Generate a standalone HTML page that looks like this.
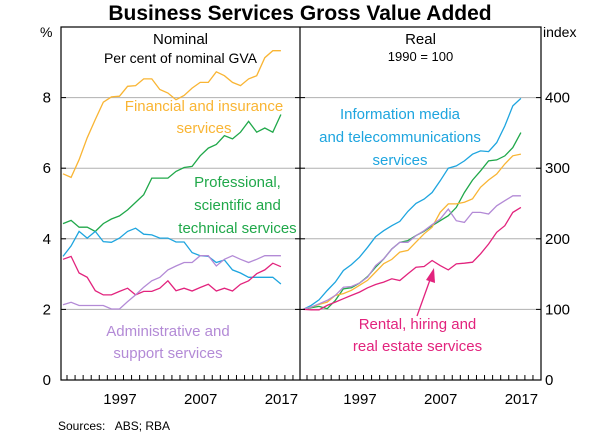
<!DOCTYPE html>
<html><head><meta charset="utf-8"><style>
html,body{margin:0;padding:0;background:#fff;}
svg{display:block;font-family:"Liberation Sans",Arial,sans-serif;}
</style></head><body>
<svg id="c" width="600" height="438" viewBox="0 0 600 438" xmlns="http://www.w3.org/2000/svg">
<text x="300" y="20" text-anchor="middle" font-size="21" font-weight="bold">Business Services Gross Value Added</text>
<g id="grid"></g>
<g id="lines"></g>
<g id="frame"></g>
<g id="labels" font-size="15"></g>
</svg>
<script>
const years = [1990,1991,1992,1993,1994,1995,1996,1997,1998,1999,2000,2001,2002,2003,2004,2005,2006,2007,2008,2009,2010,2011,2012,2013,2014,2015,2016,2017];
const nomFinancial = [5.84,5.74,6.24,6.86,7.38,7.87,8.02,8.04,8.32,8.34,8.53,8.53,8.23,8.13,7.94,8.06,8.27,8.43,8.43,8.73,8.62,8.43,8.34,8.53,8.62,9.13,9.33,9.33];
const nomProfessional = [4.43,4.52,4.33,4.33,4.21,4.43,4.56,4.65,4.82,5.03,5.25,5.72,5.72,5.72,5.91,6.02,6.05,6.35,6.57,6.67,6.92,6.83,7.02,7.33,7.02,7.14,7.02,7.52];
const nomInfo = [3.50,3.80,4.21,4.02,4.21,3.92,3.90,4.02,4.21,4.30,4.13,4.11,4.02,4.02,3.91,3.91,3.61,3.52,3.50,3.33,3.40,3.12,3.03,2.91,2.91,2.91,2.91,2.72];
const nomRental = [3.42,3.50,3.03,2.91,2.53,2.41,2.41,2.51,2.60,2.41,2.51,2.51,2.60,2.81,2.53,2.60,2.52,2.62,2.71,2.52,2.60,2.52,2.71,2.81,3.01,3.12,3.31,3.21];
const nomAdmin = [2.13,2.20,2.11,2.11,2.11,2.11,2.01,2.01,2.22,2.41,2.63,2.81,2.91,3.12,3.23,3.33,3.33,3.52,3.52,3.23,3.42,3.52,3.42,3.33,3.42,3.52,3.52,3.52];
const realInfo = [100,105.6,113.6,126.8,138.6,155.1,163.5,173.9,188,203,211.5,218.6,224.7,238.8,250.1,256.2,265.6,282.1,300,303.3,310.4,319.8,324.5,323.5,336.3,359.8,388.2,398.8];
const realProfessional = [100,102.4,104.2,101,112.7,129.2,130.6,137.2,146.6,159.8,171.5,185.6,195.1,197.4,204.5,210.6,218.6,225.6,232.7,244.5,265.6,283.1,296.2,310.4,311.8,317.4,329.2,350.4];
const realFinancial = [100,103.3,107.1,110.4,119.8,122.4,127.1,134.1,141.2,153,164.7,170.8,181.2,183.5,195.3,207.1,216.5,237.6,249.4,249.4,251.8,256.5,273,283.3,291.8,305.9,317.6,320];
const realAdmin = [100,103.3,108,112.7,119.8,131.5,132.5,137.2,145.6,162.1,171.5,185.6,195.1,195.1,204.5,211.5,220,228,242.1,225.6,223.3,237.4,237.4,235.1,246.8,253.9,260.9,260.9];
const realRental = [100,99.5,99.5,105.6,110.4,115.1,119.8,124.5,130.6,135.3,138.6,143.3,140.9,150.4,159.8,160.8,169.2,162.1,156,164.5,165.4,166.8,178.6,192.7,209.2,218.6,237.4,244.5];
const leftTicks = [0,2,4,6,8];
const rightTicks = [0,100,200,300,400];
const xLabels = [1997,2007,2017];

const NS='http://www.w3.org/2000/svg';
const L=61,M=300,R=541,T=27,B=380;
const xL=y=>63+8.07*(y-1990);
const xR=y=>303+8.07*(y-1990);
const yL=v=>B-v*(B-T)/10;
const yR=v=>B-v*(B-T)/500;
function el(tag,attrs,parent){const e=document.createElementNS(NS,tag);for(const k in attrs)e.setAttribute(k,attrs[k]);parent.appendChild(e);return e;}
const grid=document.getElementById('grid'),lines=document.getElementById('lines'),frame=document.getElementById('frame'),labels=document.getElementById('labels');
leftTicks.forEach(v=>{ if(v===0) return;
  const g=el('line',{x1:L,x2:R,y1:yL(v),y2:yL(v),stroke:'#b0b0b0','stroke-width':1},grid);
  
  
});
leftTicks.forEach(v=>{
  const t=el('text',{x:51,y:yL(v)+5,'text-anchor':'end'},labels);t.textContent=v;
  
  
});
rightTicks.forEach(v=>{
  const t=el('text',{x:545,y:yR(v)+5,'text-anchor':'start'},labels);t.textContent=v;
  
  
});
xLabels.forEach(y=>{
  [xL,xR].forEach(f=>{
    const t=el('text',{x:f(y)+0.5,y:404,'text-anchor':'middle'},labels);t.textContent=y;
    
    
  });
});
function series(fx,fy,vals,color,name){
  const d=vals.map((v,i)=>(i?'L':'M')+fx(years[i]).toFixed(1)+','+fy(v).toFixed(1)).join('');
  const p=el('path',{d:d,fill:'none',stroke:color,'stroke-width':1.3},lines);
  
  
}
const C={fin:'#f9b534',pro:'#20a84a',info:'#1ea5df',rent:'#e2237d',adm:'#b38ad6'};
series(xL,yL,nomFinancial,C.fin,'nominal-financial-line');
series(xL,yL,nomProfessional,C.pro,'nominal-professional-line');
series(xL,yL,nomInfo,C.info,'nominal-info-media-line');
series(xL,yL,nomRental,C.rent,'nominal-rental-line');
series(xL,yL,nomAdmin,C.adm,'nominal-admin-line');
series(xR,yR,realInfo,C.info,'real-info-media-line');
series(xR,yR,realProfessional,C.pro,'real-professional-line');
series(xR,yR,realFinancial,C.fin,'real-financial-line');
series(xR,yR,realAdmin,C.adm,'real-admin-line');
series(xR,yR,realRental,C.rent,'real-rental-line');
const fr=el('rect',{x:L,y:T,width:R-L,height:B-T,fill:'none',stroke:'#000','stroke-width':1.2},frame);


const dv=el('line',{x1:M,x2:M,y1:T,y2:B,stroke:'#000','stroke-width':1.2},frame);


for(let y=1989;y<=2019;y++){
  [[xL,L,M],[xR,M,R]].forEach(([f,a,b])=>{const x=f(y)+4; if(x>a+1&&x<b-1){
    const tk=el('line',{x1:x,x2:x,y1:B,y2:B-5,stroke:'#000','stroke-width':1},frame);
    
    
  }});
}
leftTicks.forEach(v=>{ if(v===0) return;
  [[L,L+5],[M-5,M+5],[R-5,R]].forEach(([a,b])=>{
    const tk=el('line',{x1:a,x2:b,y1:yL(v),y2:yL(v),stroke:'#000','stroke-width':1},frame);
    
    
  });
});
const ar=el('line',{x1:417,y1:316,x2:431,y2:277,stroke:C.rent,'stroke-width':1.3},frame);


const ah=el('polygon',{points:'434,268 426,280 435,283',fill:C.rent},frame);


</script>
<div style="position:absolute;left:0;top:0;width:600px;height:438px;font-family:'Liberation Sans',Arial,sans-serif;pointer-events:none;">
<div style="position:absolute;left:40px;top:24px;font-size:14px;">%</div>
<div style="position:absolute;left:543px;top:24px;font-size:14px;">index</div>
<div style="position:absolute;left:61px;width:239px;top:31px;text-align:center;font-size:15px;">Nominal</div>
<div style="position:absolute;left:61px;width:239px;top:50px;text-align:center;font-size:14px;">Per cent of nominal GVA</div>
<div style="position:absolute;left:300px;width:241px;top:31px;text-align:center;font-size:15px;">Real</div>
<div style="position:absolute;left:300px;width:241px;top:49px;text-align:center;font-size:13px;">1990 = 100</div>
<div style="position:absolute;left:100px;width:208px;top:96px;text-align:center;font-size:15px;line-height:22px;color:#f9b534;">Financial and insurance<br>services</div>
<div style="position:absolute;left:170px;width:135px;top:171px;text-align:center;font-size:15px;line-height:23px;color:#20a84a;">Professional,<br>scientific and<br>technical services</div>
<div style="position:absolute;left:78px;width:180px;top:321px;text-align:center;font-size:15px;line-height:22px;color:#b38ad6;">Administrative and<br>support services</div>
<div style="position:absolute;left:302px;width:196px;top:103px;text-align:center;font-size:15px;line-height:23px;color:#1ea5df;">Information media<br>and telecommunications<br>services</div>
<div style="position:absolute;left:335px;width:165px;top:314px;text-align:center;font-size:15px;line-height:22px;color:#e2237d;">Rental, hiring and<br>real estate services</div>
<div style="position:absolute;left:58px;top:419px;font-size:12px;">Sources:&nbsp;&nbsp; ABS; RBA</div>
</div>
</body></html>
